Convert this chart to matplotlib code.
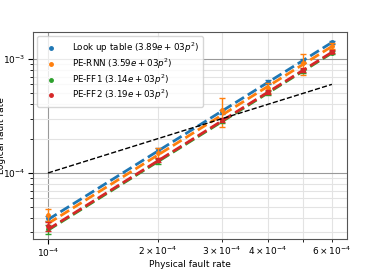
import numpy as np
import matplotlib
matplotlib.use("Agg")
import matplotlib.pyplot as plt
from matplotlib import ticker

### Data

p = np.array([1e-4, 2e-4, 3e-4, 4e-4, 5e-4, 6e-4])
names = ["Look up table", "PE-RNN", "PE-FF1", "PE-FF2"]
coefs = [3.89e3, 3.59e3, 3.14e3, 3.19e3]
colors = ["#1f77b4", "#ff7f0e", "#2ca02c", "#d62728"]

lut = [4.0e-5, 1.58e-4, 3.45e-4, 6.3e-4, 9.6e-4, 1.4e-3]
rnn = [4.3e-5, 1.50e-4, 3.55e-4, 5.6e-4, 9.2e-4, 1.3e-3]
ff1 = [3.2e-5, 1.27e-4, 2.85e-4, 5.0e-4, 7.9e-4, 1.14e-3]
ff2 = [3.4e-5, 1.30e-4, 2.90e-4, 5.1e-4, 8.0e-4, 1.16e-3]
vals = [lut, rnn, ff1, ff2]

lut_err = [2e-6, 6e-6, 1.5e-5, 2.5e-5, 4e-5, 5e-5]
rnn_err = [5e-6, 1.4e-5, 1.0e-4, 6e-5, 1.9e-4, 8e-5]
ff1_err = [3e-6, 6e-6, 1.2e-5, 2e-5, 3e-5, 4e-5]
ff2_err = [3e-6, 6e-6, 1.2e-5, 2e-5, 3e-5, 4e-5]
errs = [lut_err, rnn_err, ff1_err, ff2_err]

minor_x = [2e-4, 3e-4, 4e-4, 5e-4, 6e-4]
minor_x_labels = [r"$2\times10^{-4}$", r"$3\times10^{-4}$", r"$4\times10^{-4}$", "",
                  r"$6\times10^{-4}$"]

### Draw

plt.rcParams["font.size"] = 6.5
fig = plt.figure(figsize=(3.88, 2.70), dpi=100)
ax = fig.add_axes([33/388, 1-239/270, 314/388, 207/270])

for i in range(len(names)):
    ax.errorbar(p, vals[i], yerr=errs[i], fmt="none", ecolor=colors[i], capsize=2, elinewidth=1)
    ax.plot(p, vals[i], "o", ms=2.5, color=colors[i],
            label=names[i] + " ($%.2e p^2$)" % coefs[i])
    ax.plot(p, coefs[i] * p**2, "--", color=colors[i], lw=2)

ax.plot(p, p, "--", color="black", lw=1)

ax.set_xscale("log")
ax.set_yscale("log")
ax.set_xlim(0.91e-4, 6.6e-4)
ax.set_ylim(2.63e-5, 1.73e-3)
ax.set_xticks([1e-4])
ax.set_xticklabels([r"$10^{-4}$"])
ax.set_xticks(minor_x, minor=True)
ax.set_xticklabels(minor_x_labels, minor=True)
ax.set_yticks([1e-4, 1e-3])
ax.set_yticklabels([r"$10^{-4}$", r"$10^{-3}$"])
ax.yaxis.set_minor_formatter(ticker.NullFormatter())
ax.yaxis.tick_left()
ax.xaxis.tick_bottom()
ax.tick_params(which="both", pad=2, labelsize=6.5)

ax.grid(True, which="major", color="#999999", lw=0.8)
ax.grid(True, which="minor", color="#e3e3e3", lw=0.8)
ax.set_axisbelow(True)
for spine in ax.spines.values():
    spine.set_color("#555555")

ax.set_xlabel("Physical fault rate", labelpad=1)
ax.set_ylabel("Logical fault rate")
ax.yaxis.set_label_coords(-0.086, 0.5)
ax.legend(loc="upper left", numpoints=1, fontsize=6.3, handletextpad=1.4,
          borderpad=0.5, labelspacing=0.15)

fig.savefig("out.png", dpi=100)
